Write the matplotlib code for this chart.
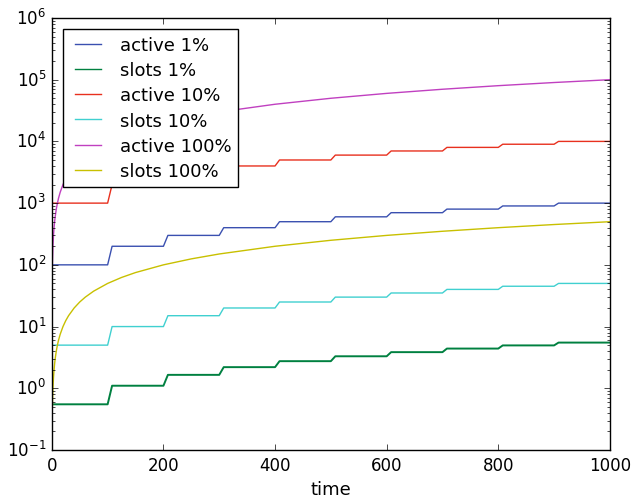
import matplotlib
matplotlib.use("Agg")
import matplotlib.pyplot as plt
import numpy as np

plt.style.use('classic')

# ---- data ----
step_starts = [0, 100, 200, 300, 400, 500, 600, 700, 800, 900, 1000]
active_1 = [100, 200, 300, 400, 500, 600, 700, 800, 900, 1000]
slots_1 = [0.55, 1.1, 1.65, 2.2, 2.75, 3.3, 3.85, 4.4, 4.95, 5.5]
active_10 = [1000, 2000, 3000, 4000, 5000, 6000, 7000, 8000, 9000, 10000]
slots_10 = [5, 10, 15, 20, 25, 30, 35, 40, 45, 50]

smooth_t = [1, 2, 3, 4, 5, 6, 8, 10, 12, 15, 20, 25, 30, 40, 50, 60, 75,
            100, 125, 150, 200, 250, 300, 400, 500, 600, 700, 800, 900, 1000]
active_100 = [100, 200, 300, 400, 500, 600, 800, 1000, 1200, 1500, 2000,
              2500, 3000, 4000, 5000, 6000, 7500, 10000, 12500, 15000, 20000,
              25000, 30000, 40000, 50000, 60000, 70000, 80000, 90000, 100000]
slots_100 = [0.5, 1.0, 1.5, 2.0, 2.5, 3.0, 4.0, 5.0, 6.0, 7.5, 10, 12.5, 15,
             20, 25, 30, 37.5, 50, 62.5, 75, 100, 125, 150, 200, 250, 300,
             350, 400, 450, 500]

labels = ['active 1%', 'slots 1%', 'active 10%', 'slots 10%',
          'active 100%', 'slots 100%']
colors = ['#3a50b0', '#008040', '#e8301e', '#40d0d0', '#c040c0', '#c8c000']


def step_xy(levels, starts):
    xs, ys = [], []
    ramp = 8
    for k, lv in enumerate(levels):
        x0 = starts[k] + (ramp if k > 0 else 0)
        xs += [x0, starts[k + 1]]
        ys += [lv, lv]
    return xs, ys


fig = plt.figure(figsize=(6.32, 5.02), dpi=100, facecolor='white')
ax = fig.add_axes([0.082, 0.1016, 0.883, 0.8606])

series = [step_xy(active_1, step_starts), step_xy(slots_1, step_starts),
          step_xy(active_10, step_starts), step_xy(slots_10, step_starts),
          (smooth_t, active_100), (smooth_t, slots_100)]
for (xs, ys), lab, c in zip(series, labels, colors):
    lw = 1.4 if lab == 'slots 1%' else 1.0
    ax.plot(xs, ys, color=c, label=lab, lw=lw)

ax.set_yscale('log')
ax.set_xlim(0, 1000)
ax.set_ylim(0.1, 1e6)
ax.set_xlabel('time', fontsize=13)
ax.tick_params(labelsize=12)
leg = ax.legend(loc='upper left', fontsize=13, handlelength=2.0,
                borderaxespad=0.6, labelspacing=0.4, handletextpad=0.75)
leg.get_frame().set_linewidth(1.0)
for l in leg.get_lines():
    l.set_linewidth(1.0)

fig.savefig('out.png', dpi=100, facecolor='white')
